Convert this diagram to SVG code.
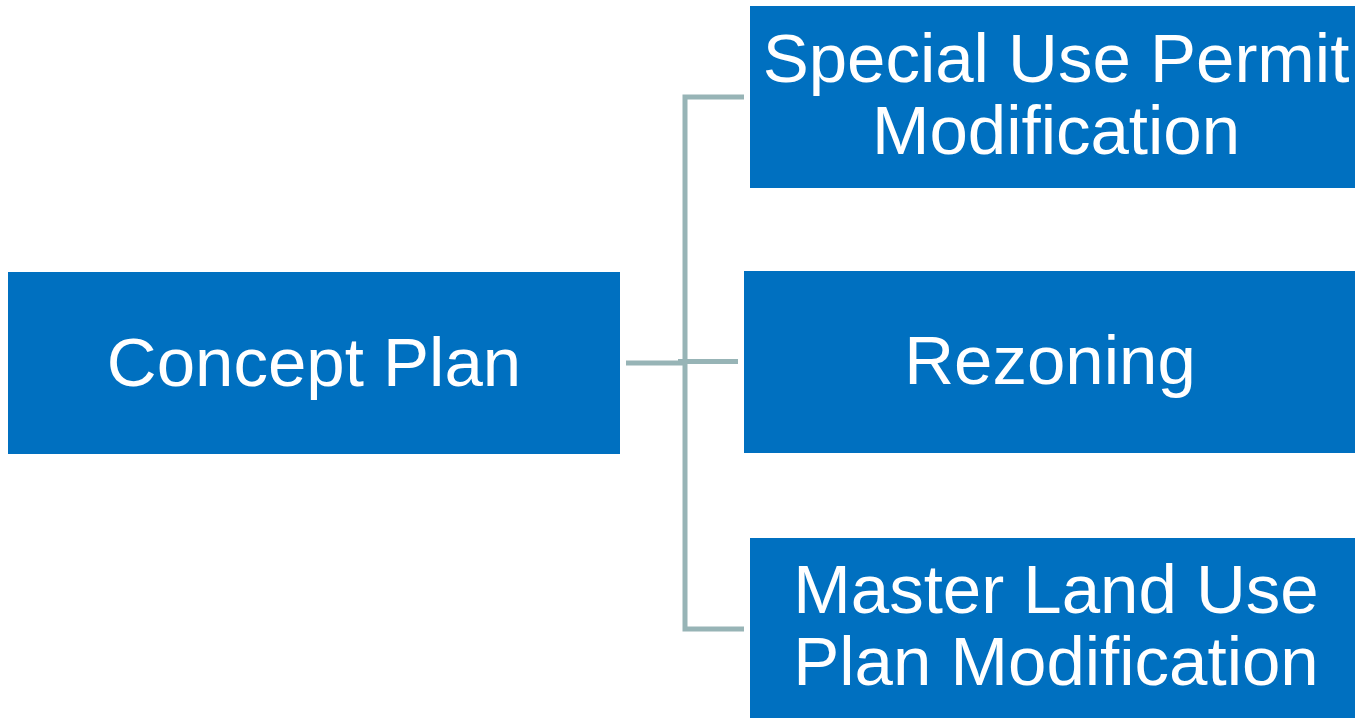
<svg xmlns="http://www.w3.org/2000/svg" width="1355" height="718" viewBox="0 0 1355 718">
<style>
.box{fill:#0070C0}
.lbl{fill:#FFFFFF;font-family:"Liberation Sans",Arial,sans-serif;font-size:69px;text-anchor:middle}
.conn{stroke:#97B4B6;stroke-width:5;fill:none}
</style>
<rect width="1355" height="718" fill="#FFFFFF"/>
<g id="connectors">
<path class="conn" d="M744,97 H685 V629 H744"/>
<path class="conn" d="M626,363 H685"/>
<path class="conn" d="M678,361.5 H738"/>
</g>
<g id="concept-plan">
<rect class="box" x="8" y="272" width="612" height="182"/>
<text class="lbl" x="314" y="386">Concept Plan</text>
</g>
<g id="special-use-permit">
<rect class="box" x="750" y="6" width="612" height="182"/>
<text class="lbl" x="1056" y="82">Special Use Permit</text>
<text class="lbl" x="1056" y="154">Modification</text>
</g>
<g id="rezoning">
<rect class="box" x="744" y="271" width="612" height="182"/>
<text class="lbl" x="1050" y="384">Rezoning</text>
</g>
<g id="master-land-use">
<rect class="box" x="750" y="538" width="612" height="182"/>
<text class="lbl" x="1056" y="613">Master Land Use</text>
<text class="lbl" x="1056" y="685">Plan Modification</text>
</g>
</svg>
